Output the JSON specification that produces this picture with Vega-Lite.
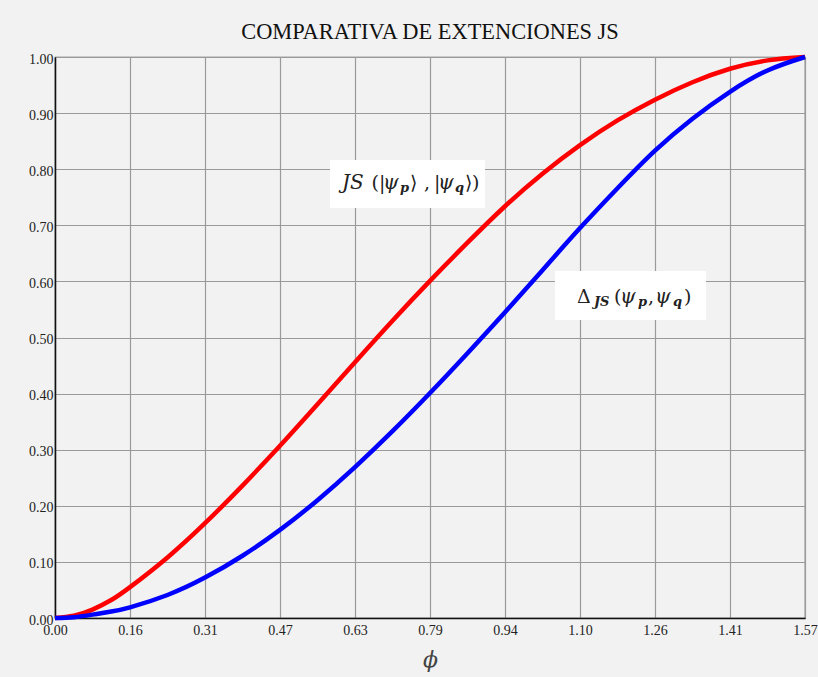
{
  "$schema": "https://vega.github.io/schema/vega-lite/v6.json",
  "width": 750,
  "height": 561,
  "autosize": {"type": "none"},
  "padding": {"left": 55, "top": 57, "right": 13, "bottom": 59},
  "background": "#f2f2f2",
  "config": {
    "view": {"stroke": "#555555", "strokeWidth": 1.2, "fill": "#f2f2f2"},
    "axis": {"labelFont": "Liberation Serif", "labelFontSize": 14, "labelColor": "#222222", "gridColor": "#9a9a9a", "gridWidth": 1.2, "gridOpacity": 1, "ticks": false, "domainColor": "#111111", "domainWidth": 1.5}
  },
  "title": {"text": "COMPARATIVA DE EXTENCIONES JS", "font": "Liberation Serif", "fontSize": 22.4, "fontWeight": "normal", "color": "#111111", "baseline": "alphabetic", "offset": -13, "anchor": "middle"},
  "datasets": {
    "curves": [
      {"phi": 0, "v": 0, "s": "JS"},
      {"phi": 0.0393, "v": 0.004, "s": "JS"},
      {"phi": 0.0785, "v": 0.015, "s": "JS"},
      {"phi": 0.1178, "v": 0.032, "s": "JS"},
      {"phi": 0.1571, "v": 0.055, "s": "JS"},
      {"phi": 0.2356, "v": 0.108, "s": "JS"},
      {"phi": 0.3142, "v": 0.169, "s": "JS"},
      {"phi": 0.3927, "v": 0.236, "s": "JS"},
      {"phi": 0.4712, "v": 0.307, "s": "JS"},
      {"phi": 0.5498, "v": 0.381, "s": "JS"},
      {"phi": 0.6283, "v": 0.456, "s": "JS"},
      {"phi": 0.7069, "v": 0.53, "s": "JS"},
      {"phi": 0.7854, "v": 0.601, "s": "JS"},
      {"phi": 0.8639, "v": 0.669, "s": "JS"},
      {"phi": 0.9425, "v": 0.734, "s": "JS"},
      {"phi": 1.021, "v": 0.792, "s": "JS"},
      {"phi": 1.0996, "v": 0.843, "s": "JS"},
      {"phi": 1.1781, "v": 0.887, "s": "JS"},
      {"phi": 1.2566, "v": 0.924, "s": "JS"},
      {"phi": 1.3352, "v": 0.955, "s": "JS"},
      {"phi": 1.4137, "v": 0.979, "s": "JS"},
      {"phi": 1.4923, "v": 0.994, "s": "JS"},
      {"phi": 1.5708, "v": 1.0, "s": "JS"},
      {"phi": 0, "v": 0, "s": "D"},
      {"phi": 0.0393, "v": 0.0015, "s": "D"},
      {"phi": 0.0785, "v": 0.006, "s": "D"},
      {"phi": 0.1178, "v": 0.0115, "s": "D"},
      {"phi": 0.1571, "v": 0.019, "s": "D"},
      {"phi": 0.2356, "v": 0.041, "s": "D"},
      {"phi": 0.3142, "v": 0.072, "s": "D"},
      {"phi": 0.3927, "v": 0.111, "s": "D"},
      {"phi": 0.4712, "v": 0.157, "s": "D"},
      {"phi": 0.5498, "v": 0.21, "s": "D"},
      {"phi": 0.6283, "v": 0.269, "s": "D"},
      {"phi": 0.7069, "v": 0.333, "s": "D"},
      {"phi": 0.7854, "v": 0.401, "s": "D"},
      {"phi": 0.8639, "v": 0.472, "s": "D"},
      {"phi": 0.9425, "v": 0.545, "s": "D"},
      {"phi": 1.021, "v": 0.62, "s": "D"},
      {"phi": 1.0996, "v": 0.695, "s": "D"},
      {"phi": 1.1781, "v": 0.766, "s": "D"},
      {"phi": 1.2566, "v": 0.833, "s": "D"},
      {"phi": 1.3352, "v": 0.89, "s": "D"},
      {"phi": 1.4137, "v": 0.938, "s": "D"},
      {"phi": 1.4923, "v": 0.976, "s": "D"},
      {"phi": 1.5708, "v": 1.0, "s": "D"}
    ],
    "boxes": [
      {"x1": 0.576, "x2": 0.9005, "y1": 0.7308, "y2": 0.8164},
      {"x1": 1.0471, "x2": 1.3634, "y1": 0.5312, "y2": 0.6185}
    ],
    "pieces": [
      {"x": 0.6011, "y": 0.7647, "t": "JS", "k": "mi"},
      {"x": 0.6628, "y": 0.7647, "t": "(", "k": "m"},
      {"x": 0.6786, "y": 0.7647, "t": "|", "k": "m"},
      {"x": 0.6869, "y": 0.7647, "t": "ψ", "k": "mi"},
      {"x": 0.7225, "y": 0.7594, "t": "p", "k": "s"},
      {"x": 0.7435, "y": 0.7647, "t": "⟩", "k": "m"},
      {"x": 0.7728, "y": 0.7647, "t": ",", "k": "m"},
      {"x": 0.7937, "y": 0.7647, "t": "|", "k": "m"},
      {"x": 0.8021, "y": 0.7647, "t": "ψ", "k": "mi"},
      {"x": 0.8377, "y": 0.7594, "t": "q", "k": "s"},
      {"x": 0.8586, "y": 0.7647, "t": "⟩", "k": "m"},
      {"x": 0.8733, "y": 0.7647, "t": ")", "k": "m"},
      {"x": 1.0932, "y": 0.5615, "t": "Δ", "k": "m"},
      {"x": 1.1288, "y": 0.5561, "t": "JS", "k": "s"},
      {"x": 1.1707, "y": 0.5615, "t": "(", "k": "m"},
      {"x": 1.1832, "y": 0.5615, "t": "ψ", "k": "mi"},
      {"x": 1.2209, "y": 0.5561, "t": "p", "k": "s"},
      {"x": 1.2419, "y": 0.5615, "t": ",", "k": "m"},
      {"x": 1.2565, "y": 0.5615, "t": "ψ", "k": "mi"},
      {"x": 1.2942, "y": 0.5561, "t": "q", "k": "s"},
      {"x": 1.3173, "y": 0.5615, "t": ")", "k": "m"}
    ]
  },
  "layer": [
    {
      "data": {"name": "curves"},
      "mark": {"type": "line", "strokeWidth": 4.5, "interpolate": "natural"},
      "encoding": {
        "x": {"field": "phi", "type": "quantitative", "scale": {"domain": [0, 1.5708], "nice": false, "zero": true},
          "axis": {"values": [0, 0.15708, 0.31416, 0.47124, 0.62832, 0.7854, 0.94248, 1.09956, 1.25664, 1.41372, 1.5708], "format": ".2f", "grid": true, "labelFlush": false, "labelPadding": 5, "title": "ϕ", "titleFont": "DejaVu Serif", "titleFontStyle": "italic", "titleFontWeight": "normal", "titleFontSize": 22, "titleColor": "#444444", "titlePadding": 12}},
        "y": {"field": "v", "type": "quantitative", "scale": {"domain": [0, 1], "nice": false},
          "axis": {"values": [0, 0.1, 0.2, 0.3, 0.4, 0.5, 0.6, 0.7, 0.8, 0.9, 1.0], "format": ".2f", "grid": true, "labelFlush": false, "labelPadding": 2, "labelOffset": 2, "title": null}},
        "color": {"field": "s", "type": "nominal", "scale": {"domain": ["JS", "D"], "range": ["#ff0000", "#0000ff"]}, "legend": null}
      }
    },
    {
      "data": {"name": "boxes"},
      "mark": {"type": "rect", "color": "white"},
      "encoding": {
        "x": {"field": "x1", "type": "quantitative"},
        "x2": {"field": "x2"},
        "y": {"field": "y1", "type": "quantitative"},
        "y2": {"field": "y2"}
      }
    },
    {
      "data": {"name": "pieces"},
      "transform": [{"filter": "datum.k === 'm'"}],
      "mark": {"type": "text", "align": "left", "baseline": "alphabetic", "font": "DejaVu Serif", "fontSize": 19, "color": "#222222"},
      "encoding": {
        "x": {"field": "x", "type": "quantitative"},
        "y": {"field": "y", "type": "quantitative"},
        "text": {"field": "t"}
      }
    },
    {
      "data": {"name": "pieces"},
      "transform": [{"filter": "datum.k === 'mi'"}],
      "mark": {"type": "text", "align": "left", "baseline": "alphabetic", "font": "DejaVu Serif", "fontStyle": "italic", "fontSize": 20, "color": "#222222"},
      "encoding": {
        "x": {"field": "x", "type": "quantitative"},
        "y": {"field": "y", "type": "quantitative"},
        "text": {"field": "t"}
      }
    },
    {
      "data": {"name": "pieces"},
      "transform": [{"filter": "datum.k === 's'"}],
      "mark": {"type": "text", "align": "left", "baseline": "alphabetic", "font": "DejaVu Serif", "fontStyle": "italic", "fontWeight": "bold", "fontSize": 13, "color": "#222222"},
      "encoding": {
        "x": {"field": "x", "type": "quantitative"},
        "y": {"field": "y", "type": "quantitative"},
        "text": {"field": "t"}
      }
    }
  ]
}
